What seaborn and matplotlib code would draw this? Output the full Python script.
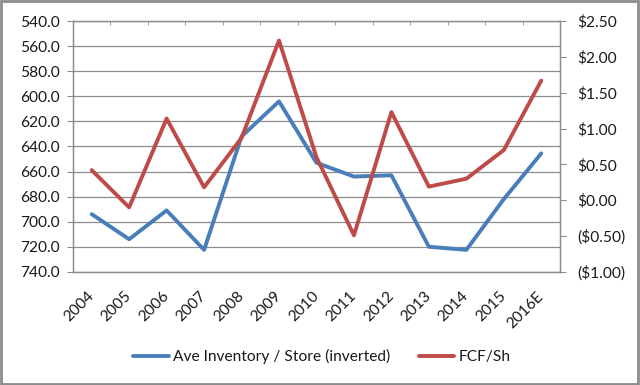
import matplotlib
matplotlib.use("Agg")
import matplotlib.pyplot as plt
import seaborn as sns
import pandas as pd
import numpy as np
from matplotlib.lines import Line2D
from matplotlib.patches import Rectangle

years = ["2004", "2005", "2006", "2007", "2008", "2009", "2010", "2011",
         "2012", "2013", "2014", "2015", "2016E"]
inventory = [694, 714, 691, 722.5, 632, 604, 653, 664, 663, 720, 722.5, 682, 645.5]
fcf = [0.42, -0.10, 1.14, 0.18, 0.87, 2.23, 0.60, -0.49, 1.23, 0.19, 0.30, 0.70, 1.67]
left_ticks = [540, 560, 580, 600, 620, 640, 660, 680, 700, 720, 740]
right_ticks = [-1.0, -0.5, 0.0, 0.5, 1.0, 1.5, 2.0, 2.5]

sns.set_style("white")
plt.rcParams["font.family"] = ["Lato", "DejaVu Sans"]

BLUE = "#4A7EBB"
RED = "#BE4B48"
GRID = "#8C8C8C"
TXT = "#1A1A1A"
FS = 11.2

df = pd.DataFrame({"pos": np.arange(len(years)), "year": years,
                   "inv": inventory, "fcf": fcf})

fig = plt.figure(figsize=(6.4, 3.85), dpi=100)
ax = fig.add_axes([0.114, 0.294, 0.761, 0.651])
ax2 = ax.twinx()

sns.lineplot(data=df, x="pos", y="inv", ax=ax, color=BLUE, linewidth=2.8, legend=False)
sns.lineplot(data=df, x="pos", y="fcf", ax=ax2, color=RED, linewidth=2.8, legend=False)

ax.set_ylim(740, 540)
ax.set_yticks(left_ticks)
ax.set_yticklabels([f"{v:.1f}" for v in left_ticks], fontsize=FS, color=TXT)
ax2.set_ylim(-1.0, 2.5)
ax2.set_yticks(right_ticks)
def money(v):
    return f"(${abs(v):.2f})" if v < 0 else f"${v:.2f}"
ax2.set_yticklabels([money(v) for v in right_ticks], fontsize=FS, color=TXT)

ax.set_xlim(-0.5, len(years) - 0.5)
ax.set_xticks(df["pos"])
ax.set_xticklabels(years, rotation=45, ha="right", va="center",
                   rotation_mode="anchor", fontsize=FS, color=TXT)
ax.set_xticks(np.arange(-0.5, len(years)), minor=True)
ax.tick_params(axis="x", which="major", length=0, pad=16)
ax.tick_params(axis="x", which="minor", top=True, bottom=False, direction="in", length=3, color=GRID)
ax.tick_params(axis="y", length=4, color=GRID, direction="out", pad=5.5)
ax2.tick_params(axis="y", length=4, color=GRID, direction="out", pad=8.2)

ax.set_xlabel("")
ax.set_ylabel("")
ax2.set_ylabel("")
ax.grid(axis="y", color=GRID, linewidth=0.9)
ax.set_axisbelow(True)

for a in (ax, ax2):
    for s in a.spines.values():
        s.set_color(GRID)
        s.set_linewidth(0.9)

handles = [Line2D([0], [0], color=BLUE, lw=2.8), Line2D([0], [0], color=RED, lw=2.8)]
fig.legend(handles, ["Ave Inventory / Store (inverted)", "FCF/Sh"], loc="center",
           bbox_to_anchor=(0.503, 0.073), ncol=2, frameon=False, fontsize=FS,
           handlelength=2.3, columnspacing=1.8, handletextpad=0.3, labelcolor=TXT)

fig.patches.append(Rectangle((0.002, 0.003), 0.995, 0.994, transform=fig.transFigure,
                             fill=False, edgecolor="#8C8C8C", linewidth=2))

fig.savefig("out.png", dpi=100)
